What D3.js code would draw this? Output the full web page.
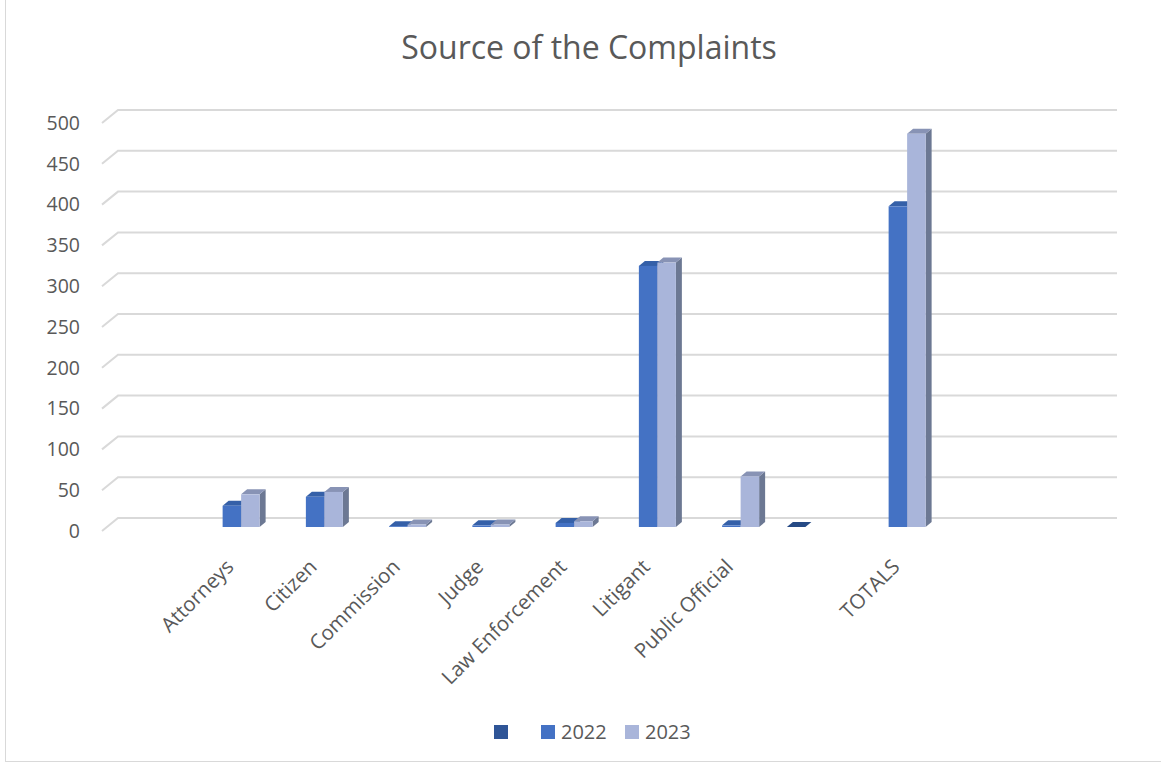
<!DOCTYPE html>
<html><head><meta charset="utf-8">
<script src="https://cdn.jsdelivr.net/npm/d3@7"></script>
<style>
html,body{margin:0;padding:0;background:#fff;}
text{font-family:"Open Sans",sans-serif;fill:#595959;}
</style></head>
<body>
<svg id="c" width="1161" height="765"></svg>
<script>
// ---- data ----
const categories = ["", "Attorneys", "Citizen", "Commission", "Judge", "Law Enforcement", "Litigant", "Public Official", " ", "TOTALS", "  ", "   "];
const seriesNames = ["", "2022", "2023"];
const valuesBlank = [null, null, null, null, null, null, null, null, 0, null, null, null];
const values2022 = [null, 26, 37, 1, 2, 5, 320, 2, null, 393, null, null];
const values2023 = [null, 40, 43, 3, 3, 7, 324, 62, null, 482, null, null];
const yTicks = [0, 50, 100, 150, 200, 250, 300, 350, 400, 450, 500];
const seriesValues = [valuesBlank, values2022, values2023];

const colors = [
  {front:"#2F5597", top:"#264A85", side:"#21406F"},
  {front:"#4472C4", top:"#3560A8", side:"#2F4F8A"},
  {front:"#A9B5DA", top:"#8893B5", side:"#6C7893"}
];

const svg = d3.select("#c");
// outer border
svg.append("rect").attr("x",5.5).attr("y",-2).attr("width",1160).attr("height",763.5)
  .attr("fill","none").attr("stroke","#D9D9D9").attr("stroke-width",1);

// title
svg.append("text").attr("x",589).attr("y",59).attr("text-anchor","middle")
  .style("font-size","32px").text("Source of the Complaints");

// scales (back wall)
const x = d3.scaleBand().domain(d3.range(categories.length)).range([118,1117]);
const y = d3.scaleLinear().domain([0,500]).range([518,110]);
const wallDX = -16, wallDY = 13;   // back wall -> front edge
const barOffX = -11, barOffY = 9;  // bar front plane
const depthX = 6, depthY = -5;     // bar depth

// gridlines
const g = svg.append("g");
yTicks.forEach(t=>{
  const yy = y(t);
  g.append("path")
    .attr("d",`M${118+wallDX},${yy+wallDY}L118,${yy}L1117,${yy}`)
    .attr("fill","none").attr("stroke","#D9D9D9").attr("stroke-width",2);
  g.append("text").attr("x",80).attr("y",yy+wallDY).attr("dy","0.35em")
    .attr("text-anchor","end").style("font-size","19.5px").text(t);
});

// bars
const groupW = 55.5;
const xs = d3.scaleBand().domain([0,1,2]).range([0,groupW]).padding(0);
const bars = svg.append("g");
categories.forEach((c,i)=>{
  seriesValues.forEach((vals,s)=>{
    const v = vals[i];
    if(v===null||v===undefined) return;
    const x0 = x(i) + (x.bandwidth()-groupW)/2 + xs(s) + barOffX;
    const w = xs.bandwidth();
    const yb = y(0)+barOffY, yt = y(v)+barOffY;
    const col = colors[s];
    bars.append("polygon")
      .attr("points",`${x0+w},${yt} ${x0+w+depthX},${yt+depthY} ${x0+w+depthX},${yb+depthY} ${x0+w},${yb}`)
      .attr("fill",col.side);
    bars.append("polygon")
      .attr("points",`${x0},${yt} ${x0+w},${yt} ${x0+w+depthX},${yt+depthY} ${x0+depthX},${yt+depthY}`)
      .attr("fill",col.top);
    bars.append("rect").attr("x",x0).attr("y",yt).attr("width",w).attr("height",Math.max(0,yb-yt))
      .attr("fill",col.front);
  });
});

// category labels
const lab = svg.append("g");
categories.forEach((c,i)=>{
  if(!c.trim()) return;
  const cx = x(i)+x.bandwidth()/2 + barOffX;
  lab.append("text")
    .attr("transform",`translate(${cx-2},${563}) rotate(-45)`)
    .attr("text-anchor","end").attr("dy","0.35em")
    .style("font-size","20.5px").text(c);
});

// legend
const leg = svg.append("g");
const legX = [494, 541, 625];
seriesNames.forEach((n,s)=>{
  leg.append("rect").attr("x",legX[s]).attr("y",725).attr("width",14).attr("height",14)
    .attr("fill",colors[s].front);
  if(n) leg.append("text").attr("x",legX[s]+20).attr("y",732).attr("dy","0.35em")
    .style("font-size","20px").text(n);
});
</script>
</body></html>
